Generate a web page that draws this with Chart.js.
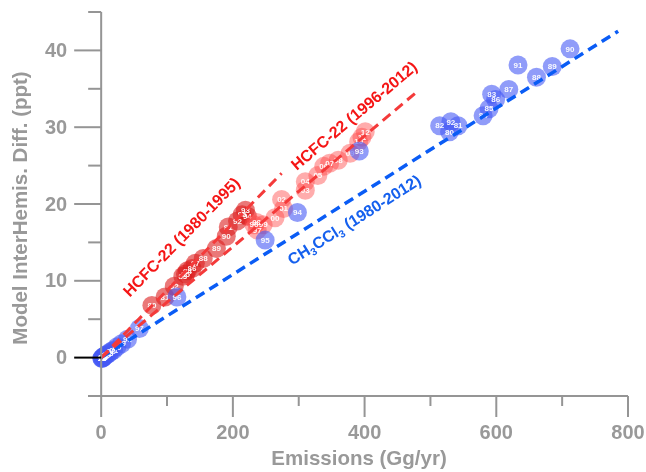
<!DOCTYPE html>
<html lang="en">
<head>
    <meta charset="UTF-8">
    <title>Model interhemispheric difference vs emissions</title>
    <script src="https://cdn.jsdelivr.net/npm/chart.js"></script>
    <style>
        body {
            margin: 0;
            background-color: #ffffff;
        }
        canvas {
            display: block;
        }
    </style>
</head>
<body>
    <canvas id="chartCanvas" width="646" height="472"></canvas>

    <script>
        // HCFC-22, 1980-1995
        const hcfcEarlyYears = ['80', '81', '82', '83', '85', '84', '86', '87', '88', '89', '90', '91', '92', '95', '94', '93'];
        const hcfcEarlyEmis = [77, 97, 111, 124, 128, 131, 138, 143, 155, 175, 190, 193, 207, 214, 222, 219];
        const hcfcEarlyDiff = [6.8, 7.9, 9.3, 10.6, 10.9, 11.3, 11.6, 12.3, 12.9, 14.2, 15.8, 17.0, 17.8, 18.6, 18.4, 19.2];

        // HCFC-22, 1996-2012
        const hcfcLateYears = ['96', '98', '97', '99', '00', '01', '02', '03', '04', '05', '06', '07', '08', '09', '10', '11', '12'];
        const hcfcLateEmis = [232, 236, 237, 246, 264, 277, 274, 310, 310, 329, 338, 347, 360, 378, 391, 396, 401];
        const hcfcLateDiff = [17.3, 17.6, 16.6, 17.3, 18.2, 19.4, 20.6, 21.8, 22.9, 23.7, 24.9, 25.3, 25.7, 26.6, 28.1, 28.7, 29.4];

        // CH3CCl3, 1980-2012
        const mcfYears = ['12', '11', '10', '09', '08', '07', '06', '05', '04', '03', '02', '01', '00', '99', '98', '97', '96', '95', '94', '93',
                          '82', '92', '80', '81', '84', '85', '83', '86', '87', '91', '88', '89', '90'];
        const mcfEmis = [1, 1, 2, 2, 3, 4, 5, 7, 9, 12, 15, 19, 24, 31, 40, 58, 115, 249, 298, 392,
                         514, 531, 529, 542, 580, 589, 593, 599, 619, 633, 661, 685, 712];
        const mcfDiff = [-0.1, -0.1, -0.1, 0.0, 0.0, 0.1, 0.2, 0.3, 0.4, 0.6, 0.8, 1.0, 1.4, 1.8, 2.4, 3.8, 7.9, 15.3, 18.9, 26.9,
                         30.2, 30.7, 29.4, 30.2, 31.5, 32.4, 34.3, 33.6, 34.9, 38.1, 36.5, 37.9, 40.2];

        // fitted lines through the origin (end points in data units)
        const fitEarlyX = [0, 274];
        const fitEarlyY = [0, 24.0];
        const fitLateX = [0, 478];
        const fitLateY = [0, 34.5];
        const fitMcfX = [0, 785];
        const fitMcfY = [0, 42.5];

        // axes
        const xMajorTicks = [0, 200, 400, 600, 800];
        const xMinorTicks = [100, 300, 500, 700];
        const yMajorTicks = [0, 10, 20, 30, 40];
        const yMinorTicks = [5, 15, 25, 35, 45];

        const toPoints = (xs, ys) => xs.map((x, i) => ({ x: x, y: ys[i] }));

        const AXIS_GREY = '#959595';
        const FONT = '"Liberation Sans", Arial, Helvetica, sans-serif';

        // year labels inside the circles
        const yearLabels = {
            id: 'yearLabels',
            afterDatasetDraw(chart, args) {
                const years = chart.data.datasets[args.index].years;
                if (!years) return;
                const ctx = chart.ctx;
                ctx.save();
                ctx.fillStyle = 'rgba(255,255,255,0.95)';
                ctx.font = 'bold 8px ' + FONT;
                ctx.textAlign = 'center';
                ctx.textBaseline = 'middle';
                args.meta.data.forEach((pt, i) => {
                    ctx.fillText(years[i], pt.x, pt.y + 0.5);
                });
                ctx.restore();
            }
        };

        // axis lines, ticks, tick labels and titles
        const axesPainter = {
            id: 'axesPainter',
            afterDraw(chart) {
                const ctx = chart.ctx;
                const xs = chart.scales.x;
                const ys = chart.scales.y;
                const area = chart.chartArea;
                const x0 = xs.getPixelForValue(0);
                const yBase = area.bottom;

                ctx.save();
                ctx.strokeStyle = AXIS_GREY;
                ctx.lineWidth = 2;
                ctx.lineCap = 'butt';

                // y axis line at x = 0
                ctx.beginPath();
                ctx.moveTo(x0, area.top);
                ctx.lineTo(x0, yBase);
                ctx.stroke();
                // x axis line at the bottom
                ctx.beginPath();
                ctx.moveTo(area.left, yBase);
                ctx.lineTo(area.right, yBase);
                ctx.stroke();

                // x ticks
                xMajorTicks.forEach(v => {
                    const px = xs.getPixelForValue(v);
                    ctx.beginPath();
                    ctx.moveTo(px, yBase);
                    ctx.lineTo(px, yBase + 21);
                    ctx.stroke();
                });
                xMinorTicks.forEach(v => {
                    const px = xs.getPixelForValue(v);
                    ctx.beginPath();
                    ctx.moveTo(px, yBase);
                    ctx.lineTo(px, yBase + 10);
                    ctx.stroke();
                });

                // y ticks
                yMajorTicks.forEach(v => {
                    const py = ys.getPixelForValue(v);
                    ctx.strokeStyle = v === 0 ? '#000000' : AXIS_GREY;
                    ctx.beginPath();
                    ctx.moveTo(x0 - 27, py);
                    ctx.lineTo(x0, py);
                    ctx.stroke();
                });
                ctx.strokeStyle = AXIS_GREY;
                yMinorTicks.forEach(v => {
                    const py = ys.getPixelForValue(v);
                    ctx.beginPath();
                    ctx.moveTo(x0 - 13, py);
                    ctx.lineTo(x0, py);
                    ctx.stroke();
                });

                // tick labels
                ctx.fillStyle = '#999999';
                ctx.font = 'bold 20px ' + FONT;
                ctx.textAlign = 'center';
                ctx.textBaseline = 'middle';
                xMajorTicks.forEach(v => {
                    ctx.fillText(String(v), xs.getPixelForValue(v), yBase + 37);
                });
                ctx.textAlign = 'right';
                yMajorTicks.forEach(v => {
                    ctx.fillText(String(v), x0 - 34, ys.getPixelForValue(v) + 1);
                });

                // axis titles
                ctx.textAlign = 'center';
                ctx.font = 'bold 20.5px ' + FONT;
                ctx.fillText('Emissions (Gg/yr)', 359, 459);
                ctx.translate(21, 208);
                ctx.rotate(-Math.PI / 2);
                ctx.fillText('Model InterHemis. Diff. (ppt)', 0, 0);
                ctx.restore();
            }
        };

        // rotated labels along the fitted lines
        const lineLabels = {
            id: 'lineLabels',
            afterDraw(chart) {
                const ctx = chart.ctx;
                const xs = chart.scales.x;
                const ys = chart.scales.y;
                const angleOf = (lx, ly) => {
                    const dx = xs.getPixelForValue(lx[1]) - xs.getPixelForValue(lx[0]);
                    const dy = ys.getPixelForValue(ly[1]) - ys.getPixelForValue(ly[0]);
                    return Math.atan2(dy, dx);
                };
                const drawParts = (parts, cx, cy, angle, color) => {
                    ctx.save();
                    ctx.fillStyle = color;
                    ctx.textBaseline = 'middle';
                    ctx.textAlign = 'left';
                    let total = 0;
                    parts.forEach(p => {
                        ctx.font = 'bold ' + (p.sub ? 10.5 : 16) + 'px ' + FONT;
                        p.w = ctx.measureText(p.t).width;
                        total += p.w;
                    });
                    ctx.translate(cx, cy);
                    ctx.rotate(angle);
                    let pos = -total / 2;
                    parts.forEach(p => {
                        ctx.font = 'bold ' + (p.sub ? 10.5 : 16) + 'px ' + FONT;
                        ctx.fillText(p.t, pos, p.sub ? 5 : 0);
                        pos += p.w;
                    });
                    ctx.restore();
                };

                drawParts([{ t: 'HCFC-22 (1980-1995)' }],
                    xs.getPixelForValue(123), ys.getPixelForValue(15.6),
                    angleOf(fitEarlyX, fitEarlyY), '#f51515');
                drawParts([{ t: 'HCFC-22 (1996-2012)' }],
                    xs.getPixelForValue(385), ys.getPixelForValue(31.4),
                    angleOf(fitLateX, fitLateY), '#f51515');
                drawParts([{ t: 'CH' }, { t: '3', sub: true }, { t: 'CCl' }, { t: '3', sub: true }, { t: ' (1980-2012)' }],
                    xs.getPixelForValue(385), ys.getPixelForValue(17.8),
                    angleOf(fitMcfX, fitMcfY), '#1560ee');
            }
        };

        const pointStyle = (color) => ({
            showLine: false,
            pointRadius: 9.5,
            pointHoverRadius: 9.5,
            pointBorderWidth: 0,
            pointBackgroundColor: color,
            backgroundColor: color,
            borderColor: color
        });

        const lineStyle = (color, width) => ({
            showLine: true,
            pointRadius: 0,
            borderColor: color,
            borderWidth: width,
            borderDash: [10, 6],
            borderCapStyle: 'butt',
            fill: false
        });

        new Chart(document.getElementById('chartCanvas'), {
            type: 'scatter',
            data: {
                datasets: [
                    Object.assign({ label: 'fit HCFC-22 1980-1995', data: toPoints(fitEarlyX, fitEarlyY), order: 0 },
                        lineStyle('#f43a3a', 3)),
                    Object.assign({ label: 'fit HCFC-22 1996-2012', data: toPoints(fitLateX, fitLateY), order: 0 },
                        lineStyle('#f43a3a', 3)),
                    Object.assign({ label: 'fit CH3CCl3', data: toPoints(fitMcfX, fitMcfY), order: 0 },
                        lineStyle('#0a5cf5', 3.5)),
                    Object.assign({ label: 'CH3CCl3', data: toPoints(mcfEmis, mcfDiff), years: mcfYears, order: 1 },
                        pointStyle('rgba(70, 90, 245, 0.6)')),
                    Object.assign({ label: 'HCFC-22 1996-2012', data: toPoints(hcfcLateEmis, hcfcLateDiff), years: hcfcLateYears, order: 2 },
                        pointStyle('rgba(255, 70, 70, 0.45)')),
                    Object.assign({ label: 'HCFC-22 1980-1995', data: toPoints(hcfcEarlyEmis, hcfcEarlyDiff), years: hcfcEarlyYears, order: 3 },
                        pointStyle('rgba(220, 30, 30, 0.6)'))
                ]
            },
            options: {
                responsive: false,
                animation: false,
                layout: {
                    padding: { left: 88, right: 18, top: 12, bottom: 76 }
                },
                scales: {
                    x: { type: 'linear', min: -20, max: 800, display: false },
                    y: { type: 'linear', min: -5, max: 45, display: false }
                },
                plugins: {
                    legend: { display: false },
                    tooltip: { enabled: false }
                }
            },
            plugins: [yearLabels, axesPainter, lineLabels]
        });
    </script>
</body>
</html>
